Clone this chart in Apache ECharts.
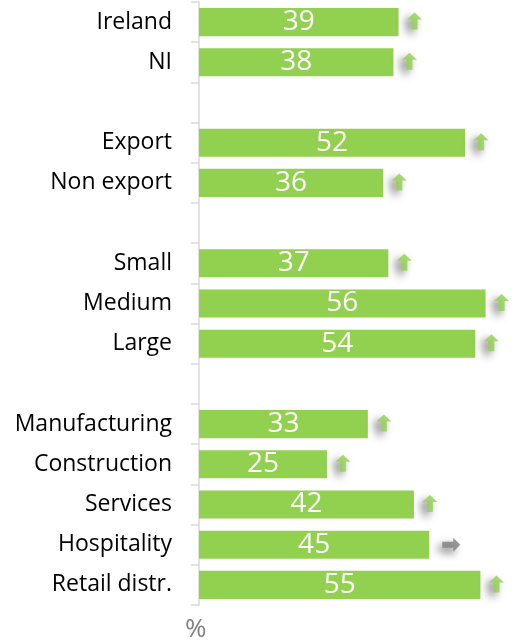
<!DOCTYPE html>
<html>
<head>
<meta charset="utf-8">
<script src="https://cdn.jsdelivr.net/npm/echarts@6/dist/echarts.min.js"></script>
<style>html,body{margin:0;padding:0;background:#fff}#c{width:515px;height:641px}</style>
</head>
<body>
<div id="c"></div>
<script>
const categories = ['Ireland','NI',' ','Export','Non export','  ','Small','Medium','Large','   ','Manufacturing','Construction','Services','Hospitality','Retail distr.'];
const values = [39,38,null,52,36,null,37,56,54,null,33,25,42,45,55];
const trends = ['up','up',null,'up','up',null,'up','up','up',null,'up','up','up','flat','up'];
const axisUnit = '%';

const upArrow = 'path://M7.5,0 L15,7 L10.5,7 L10.5,17 L4.5,17 L4.5,7 L0,7 Z';
const rightArrow = 'path://M18,7 L11,0 L11,4 L0,4 L0,10 L11,10 L11,14 Z';

const arrowData = [];
values.forEach((v, i) => {
  if (v == null) return;
  const up = trends[i] === 'up';
  arrowData.push({
    value: [v, i],
    symbol: up ? upArrow : rightArrow,
    symbolSize: up ? [15, 17] : [18, 14],
    symbolOffset: up ? [16, -1] : [22, 0],
    itemStyle: {color: up ? '#92D050' : '#808080'}
  });
});

const chart = echarts.init(document.getElementById('c'));
chart.setOption({
  animation: false,
  grid: {left: 199, right: 9, top: 2, bottom: 36, containLabel: false},
  xAxis: {type: 'value', min: 0, max: 60, show: false},
  yAxis: {
    type: 'category', data: categories, inverse: true,
    axisLine: {lineStyle: {color: '#d9d9d9', width: 1.5}},
    axisTick: {show: true, length: 8, lineStyle: {color: '#d9d9d9', width: 1.5}},
    axisLabel: {color: '#000', fontSize: 23, fontFamily: 'Open Sans', margin: 27, padding: [4, 0, 0, 0]}
  },
  series: [
    {
      type: 'bar', data: values, barWidth: '70%',
      itemStyle: {color: '#92D050'},
      label: {show: true, position: 'inside', color: '#fff', fontSize: 28, fontFamily: 'Open Sans'}
    },
    {
      type: 'scatter', data: arrowData, z: 3,
      itemStyle: {shadowBlur: 8, shadowColor: 'rgba(0,0,0,0.65)', shadowOffsetX: -4, shadowOffsetY: 4}
    }
  ],
  graphic: [{
    type: 'text', left: 185, top: 617,
    style: {text: axisUnit, fill: '#808080', fontSize: 26, fontFamily: 'Open Sans'}
  }]
});
</script>
</body>
</html>
